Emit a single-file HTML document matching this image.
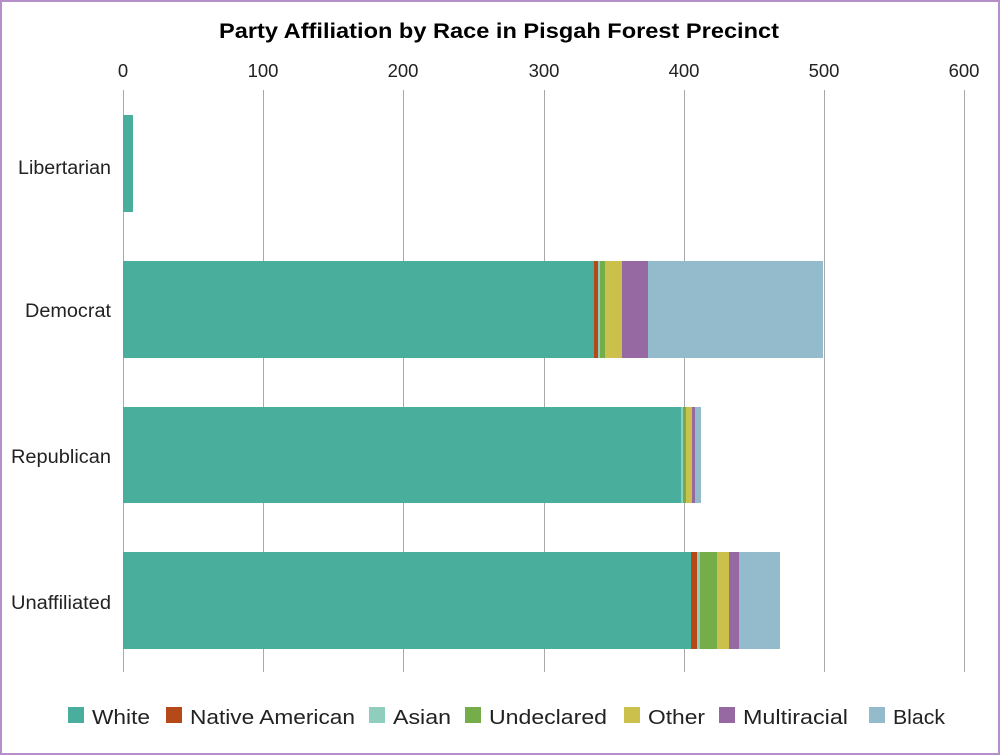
<!DOCTYPE html>
<html><head><meta charset="utf-8"><style>
html,body{margin:0;padding:0;background:#fff}
svg{display:block;font-family:"Liberation Sans",Arial,sans-serif}
</style></head><body>
<svg width="1000" height="755" viewBox="0 0 1000 755" xmlns="http://www.w3.org/2000/svg">
<rect x="1" y="1" width="998" height="753" fill="#fff" stroke="#b48fca" stroke-width="2"/>
<text x="219" y="38" font-size="21" font-weight="bold" fill="#000" textLength="560" lengthAdjust="spacingAndGlyphs">Party Affiliation by Race in Pisgah Forest Precinct</text>
<g font-size="18.5" fill="#222" text-anchor="middle">
<text x="123" y="77">0</text><text x="263" y="77">100</text><text x="403" y="77">200</text>
<text x="544" y="77">300</text><text x="684" y="77">400</text><text x="824" y="77">500</text><text x="964" y="77">600</text>
</g>
<g stroke="#aaa" stroke-width="1">
<line x1="123.5" y1="90" x2="123.5" y2="672"/><line x1="263.5" y1="90" x2="263.5" y2="672"/>
<line x1="403.5" y1="90" x2="403.5" y2="672"/><line x1="544.5" y1="90" x2="544.5" y2="672"/>
<line x1="684.5" y1="90" x2="684.5" y2="672"/><line x1="824.5" y1="90" x2="824.5" y2="672"/>
<line x1="964.5" y1="90" x2="964.5" y2="672"/>
</g>
<g font-size="19" fill="#222">
<text x="18" y="174" textLength="93" lengthAdjust="spacingAndGlyphs">Libertarian</text>
<text x="25" y="317" textLength="86" lengthAdjust="spacingAndGlyphs">Democrat</text>
<text x="11" y="463" textLength="100" lengthAdjust="spacingAndGlyphs">Republican</text>
<text x="11" y="609" textLength="100" lengthAdjust="spacingAndGlyphs">Unaffiliated</text>
</g>
<rect x="123" y="115" width="10" height="97" fill="#49ae9b"/>
<g>
<rect x="123" y="261" width="471" height="97" fill="#49ae9b"/>
<rect x="594" y="261" width="4" height="97" fill="#b5491a"/>
<rect x="598" y="261" width="2" height="97" fill="#8fcdbd"/>
<rect x="600" y="261" width="5" height="97" fill="#76ad4b"/>
<rect x="605" y="261" width="17" height="97" fill="#cbc04c"/>
<rect x="622" y="261" width="26" height="97" fill="#9769a3"/>
<rect x="648" y="261" width="175" height="97" fill="#94bbcc"/>
</g>
<g>
<rect x="123" y="407" width="558" height="96" fill="#49ae9b"/>
<rect x="681" y="407" width="2" height="96" fill="#8fcdbd"/>
<rect x="683" y="407" width="3" height="96" fill="#76ad4b"/>
<rect x="686" y="407" width="6" height="96" fill="#cbc04c"/>
<rect x="692" y="407" width="3" height="96" fill="#9769a3"/>
<rect x="695" y="407" width="6" height="96" fill="#94bbcc"/>
</g>
<g>
<rect x="123" y="552" width="568" height="97" fill="#49ae9b"/>
<rect x="691" y="552" width="6" height="97" fill="#b5491a"/>
<rect x="697" y="552" width="3" height="97" fill="#8fcdbd"/>
<rect x="700" y="552" width="17" height="97" fill="#76ad4b"/>
<rect x="717" y="552" width="12" height="97" fill="#cbc04c"/>
<rect x="729" y="552" width="10" height="97" fill="#9769a3"/>
<rect x="739" y="552" width="41" height="97" fill="#94bbcc"/>
</g>
<g font-size="20" fill="#222">
<rect x="68" y="707" width="16" height="16" fill="#49ae9b"/><text x="92" y="724" textLength="58" lengthAdjust="spacingAndGlyphs">White</text>
<rect x="166" y="707" width="16" height="16" fill="#b5491a"/><text x="190" y="724" textLength="165" lengthAdjust="spacingAndGlyphs">Native American</text>
<rect x="369" y="707" width="16" height="16" fill="#8fcdbd"/><text x="393" y="724" textLength="58" lengthAdjust="spacingAndGlyphs">Asian</text>
<rect x="465" y="707" width="16" height="16" fill="#76ad4b"/><text x="489" y="724" textLength="118" lengthAdjust="spacingAndGlyphs">Undeclared</text>
<rect x="624" y="707" width="16" height="16" fill="#cbc04c"/><text x="648" y="724" textLength="57" lengthAdjust="spacingAndGlyphs">Other</text>
<rect x="719" y="707" width="16" height="16" fill="#9769a3"/><text x="743" y="724" textLength="105" lengthAdjust="spacingAndGlyphs">Multiracial</text>
<rect x="869" y="707" width="16" height="16" fill="#94bbcc"/><text x="893" y="724" textLength="52" lengthAdjust="spacingAndGlyphs">Black</text>
</g>
</svg>
</body></html>
